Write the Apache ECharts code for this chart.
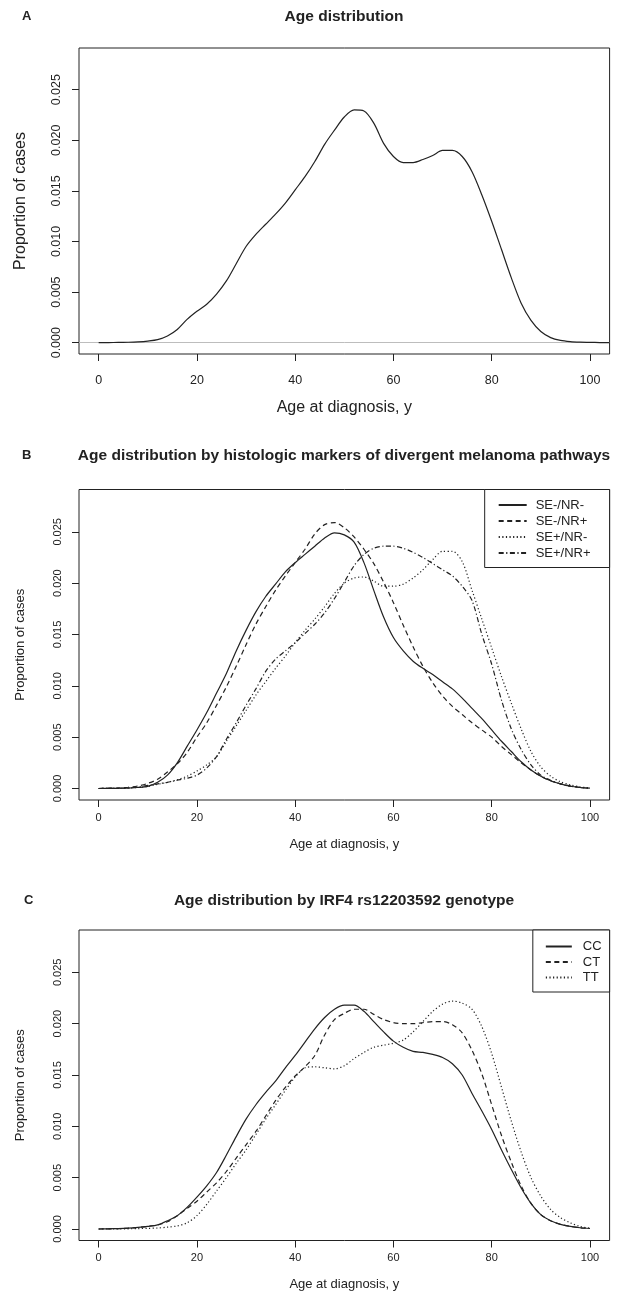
<!DOCTYPE html>
<html>
<head>
<meta charset="utf-8">
<title>Age distribution</title>
<script src="https://cdn.jsdelivr.net/npm/echarts@6/dist/echarts.min.js"></script>
<style>
  html, body { margin: 0; padding: 0; background: #fff; }
  #chart { width: 628px; height: 1298px; }
</style>
</head>
<body>
<div id="chart"></div>
<script>
// 年龄(x轴),每2岁一个点
const agesA = [0, 2, 4, 6, 8, 10, 12, 14, 16, 18, 20, 22, 24, 26, 28, 30, 32, 34, 36, 38, 40, 42, 44, 46, 48, 50,
  52, 54, 56, 58, 60, 62, 64, 66, 68, 70, 72, 74, 76, 78, 80, 82, 84, 86, 88, 90, 92, 94, 96, 98, 100, 102, 104];
const ages = [0, 2, 4, 6, 8, 10, 12, 14, 16, 18, 20, 22, 24, 26, 28, 30, 32, 34, 36, 38, 40, 42, 44, 46, 48, 50,
  52, 54, 56, 58, 60, 62, 64, 66, 68, 70, 72, 74, 76, 78, 80, 82, 84, 86, 88, 90, 92, 94, 96, 98, 100];

// A: all cases
const densAll = [0, 0.00001, 0.00002, 0.00004, 0.00008, 0.00016, 0.0003, 0.00066, 0.0013, 0.0023, 0.0031, 0.0038,
  0.0048, 0.0061, 0.0078, 0.0095, 0.0107, 0.0117, 0.0127, 0.0138, 0.0151, 0.0164, 0.0179, 0.0196, 0.021, 0.0223,
  0.023, 0.0229, 0.0217, 0.0197, 0.0184, 0.0178, 0.0178, 0.0181, 0.0185, 0.019, 0.019, 0.0184, 0.0169, 0.0146,
  0.012, 0.0092, 0.0064, 0.0039, 0.0022, 0.0011, 0.0005, 0.00022, 0.0001, 0.00005, 0.00003, 0.00001, 0.000005];

// B: histologic markers
const namesB = ['SE-/NR-', 'SE-/NR+', 'SE+/NR-', 'SE+/NR+'];
const seNegNrNeg = [0, 0.00001, 0.00002, 0.00004, 0.0001, 0.0002, 0.0006, 0.0013, 0.0025, 0.0041, 0.0057, 0.0074,
  0.0093, 0.0112, 0.0134, 0.0154, 0.0172, 0.0187, 0.0199, 0.0211, 0.022, 0.0228, 0.0236, 0.0244, 0.0249, 0.0247,
  0.024, 0.022, 0.0193, 0.0167, 0.0147, 0.0134, 0.0124, 0.0117, 0.0111, 0.0104, 0.0097, 0.0088, 0.0078, 0.0068,
  0.0057, 0.0046, 0.0036, 0.0026, 0.0018, 0.0012, 0.00075, 0.00045, 0.00022, 0.0001, 0.00003];
const seNegNrPos = [0, 0.00003, 0.00006, 0.00012, 0.00025, 0.0005, 0.0009, 0.0016, 0.0024, 0.0035, 0.005, 0.0064,
  0.0081, 0.0099, 0.0119, 0.014, 0.016, 0.0177, 0.0193, 0.0207, 0.022, 0.0233, 0.0248, 0.0257, 0.0259, 0.0254,
  0.0245, 0.0233, 0.0219, 0.0201, 0.0181, 0.0159, 0.0138, 0.0119, 0.0103, 0.009, 0.008, 0.0072, 0.0064, 0.0057,
  0.005, 0.0041, 0.0033, 0.0025, 0.0018, 0.0012, 0.00075, 0.00045, 0.00025, 0.0001, 0.00003];
const sePosNrNeg = [0, 0.00001, 0.00002, 0.00004, 0.0001, 0.0002, 0.0004, 0.0006, 0.00085, 0.0012, 0.0017, 0.0023,
  0.0031, 0.0046, 0.0061, 0.0076, 0.0091, 0.0104, 0.0117, 0.0129, 0.0142, 0.0154, 0.0165, 0.0177, 0.019, 0.02,
  0.0205, 0.0206, 0.0202, 0.0197, 0.0197, 0.0199, 0.0205, 0.0213, 0.0223, 0.0231, 0.0231, 0.0221, 0.0193, 0.0165,
  0.0137, 0.0109, 0.0083, 0.0058, 0.0036, 0.0021, 0.0012, 0.00065, 0.00035, 0.00015, 0.00005];
const sePosNrPos = [0, 0.00001, 0.00003, 0.00006, 0.00015, 0.0003, 0.00045, 0.0006, 0.0008, 0.001, 0.0013, 0.002,
  0.0031, 0.0048, 0.0064, 0.0081, 0.0097, 0.0114, 0.0126, 0.0134, 0.0142, 0.0151, 0.016, 0.0171, 0.0185, 0.0201,
  0.0217, 0.0228, 0.0234, 0.0236, 0.0236, 0.0234, 0.023, 0.0225, 0.0219, 0.0213, 0.0207, 0.0197, 0.0183, 0.015,
  0.0121, 0.0086, 0.0058, 0.0038, 0.0023, 0.0013, 0.0008, 0.00045, 0.00022, 0.0001, 0.00003];

// C: IRF4 rs12203592 genotype
const namesC = ['CC', 'CT', 'TT'];
const genoCC = [0, 0.00002, 0.00004, 0.00008, 0.00015, 0.00025, 0.0004, 0.0008, 0.0013, 0.0021, 0.0031, 0.0042,
  0.0055, 0.0072, 0.009, 0.0107, 0.0121, 0.0133, 0.0144, 0.0157, 0.0169, 0.0182, 0.0195, 0.0206, 0.0214, 0.0218,
  0.0218, 0.0212, 0.0202, 0.0192, 0.0183, 0.0177, 0.0173, 0.0172, 0.017, 0.0167, 0.0161, 0.015, 0.0132, 0.0115,
  0.0097, 0.0077, 0.0058, 0.004, 0.0025, 0.0014, 0.0008, 0.00045, 0.00025, 0.00012, 0.00005];
const genoCT = [0, 0.00002, 0.00004, 0.00008, 0.00015, 0.00025, 0.0004, 0.0007, 0.0013, 0.002, 0.0027, 0.0036,
  0.0045, 0.0056, 0.0069, 0.0082, 0.0095, 0.011, 0.0125, 0.0138, 0.0149, 0.0158, 0.0169, 0.0189, 0.0204, 0.021,
  0.0214, 0.0214, 0.0209, 0.0204, 0.0201, 0.02, 0.02, 0.0201, 0.0202, 0.0202, 0.0199, 0.0191, 0.0174, 0.0151,
  0.0121, 0.0091, 0.0065, 0.0042, 0.0025, 0.0014, 0.0008, 0.00045, 0.00025, 0.00012, 0.00005];
const genoTT = [0, 0.00001, 0.00001, 0.00002, 0.00004, 0.00006, 0.0001, 0.00018, 0.0003, 0.0006, 0.0013, 0.0024,
  0.0037, 0.005, 0.0064, 0.0077, 0.0092, 0.0107, 0.0121, 0.0135, 0.0148, 0.0157, 0.0158, 0.0157, 0.0156, 0.0159,
  0.0166, 0.0172, 0.0177, 0.0179, 0.0181, 0.0184, 0.0192, 0.0202, 0.0212, 0.0219, 0.0222, 0.022, 0.0214, 0.0197,
  0.0171, 0.0138, 0.0105, 0.0075, 0.005, 0.0032, 0.0019, 0.0011, 0.0006, 0.00025, 0.00008];

// 刻度
const xTicks = [0, 20, 40, 60, 80, 100];
const yTicks = [0, 0.005, 0.01, 0.015, 0.02, 0.025];

const ink = '#222';
const font = 'Liberation Sans, Arial, Helvetica, sans-serif';
// 线型: 实线 / 虚线 / 点线 / 点划线
const dashTypes = ['solid', [5, 3.5], [1.2, 2.4], [5, 2.5, 1.2, 2.5]];

const chart = echarts.init(document.getElementById('chart'));

// 三个面板的位置 (R par 风格的方框)
const panels = [
  { top: 48, height: 306, tickFont: 12.5, nameFont: 16, labelMargin: 20, nameGapX: 46, nameGapY: 50 },
  { top: 489.5, height: 310.5, tickFont: 11, nameFont: 13, labelMargin: 12, nameGapX: 38, nameGapY: 52 },
  { top: 930, height: 310.5, tickFont: 11, nameFont: 13, labelMargin: 12, nameGapX: 37, nameGapY: 52 }
];

const toPairs = (xs, ys) => xs.map((x, i) => [x, ys[i]]);

function makeSeries(name, xs, ys, idx, dash) {
  return {
    name: name,
    type: 'line',
    xAxisIndex: idx,
    yAxisIndex: idx,
    data: toPairs(xs, ys),
    symbol: 'none',
    smooth: 0.3,
    clip: true,
    lineStyle: { color: ink, width: 1.2, type: dash },
    itemStyle: { color: ink },
    emphasis: { disabled: true },
    animation: false
  };
}

const seriesArr = [];
const aSeries = makeSeries('All', agesA, densAll, 0, 'solid');
// 零线(灰色),放在曲线下面
aSeries.markLine = {
  silent: true,
  symbol: 'none',
  z: 1,
  label: { show: false },
  lineStyle: { color: '#bdbdbd', type: 'solid', width: 1 },
  data: [{ yAxis: 0 }]
};
seriesArr.push(aSeries);
[seNegNrNeg, seNegNrPos, sePosNrNeg, sePosNrPos].forEach((d, i) => {
  seriesArr.push(makeSeries(namesB[i], ages, d, 1, dashTypes[i]));
});
[genoCC, genoCT, genoTT].forEach((d, i) => {
  seriesArr.push(makeSeries(namesC[i], ages, d, 2, dashTypes[i]));
});

const titleStyle = { fontSize: 15.5, fontWeight: 'bold', color: ink, fontFamily: font };
const letterStyle = { fontSize: 13, fontWeight: 'bold', color: ink, fontFamily: font };

const option = {
  backgroundColor: '#fff',
  animation: false,
  textStyle: { fontFamily: font, color: ink },
  title: [
    { text: 'A', left: 22, top: 10, padding: 0, textStyle: letterStyle },
    { text: 'Age distribution', left: 344, top: 8.5, padding: 0, textAlign: 'center', textStyle: titleStyle },
    { text: 'B', left: 22, top: 449, padding: 0, textStyle: letterStyle },
    { text: 'Age distribution by histologic markers of divergent melanoma pathways', left: 344, top: 447.5, padding: 0, textAlign: 'center', textStyle: titleStyle },
    { text: 'C', left: 24, top: 894, padding: 0, textStyle: letterStyle },
    { text: 'Age distribution by IRF4 rs12203592 genotype', left: 344, top: 893, padding: 0, textAlign: 'center', textStyle: titleStyle }
  ],
  legend: [
    {
      data: namesB,
      orient: 'vertical',
      right: 18.4,
      top: 489.5,
      itemWidth: 28,
      itemHeight: 12,
      itemGap: 3,
      padding: [9, 19, 8, 13],
      borderColor: ink,
      borderWidth: 1,
      borderRadius: 0,
      backgroundColor: '#fff',
      selectedMode: false,
      itemStyle: { opacity: 0 },
      textStyle: { fontSize: 13, color: ink, fontFamily: font, padding: [0, 0, 0, 4] }
    },
    {
      data: namesC,
      orient: 'vertical',
      right: 18.4,
      top: 930,
      itemWidth: 26,
      itemHeight: 12,
      itemGap: 2.5,
      padding: [10, 8, 8, 12],
      borderColor: ink,
      borderWidth: 1,
      borderRadius: 0,
      backgroundColor: '#fff',
      selectedMode: false,
      itemStyle: { opacity: 0 },
      textStyle: { fontSize: 13, color: ink, fontFamily: font, padding: [0, 0, 0, 6] }
    }
  ],
  grid: panels.map(p => ({
    left: 79,
    right: 18.4,
    top: p.top,
    height: p.height,
    show: true,
    borderColor: ink,
    borderWidth: 1,
    backgroundColor: 'transparent',
    containLabel: false
  })),
  xAxis: panels.map((p, i) => ({
    type: 'value',
    gridIndex: i,
    min: -4,
    max: 104,
    name: 'Age at diagnosis, y',
    nameLocation: 'middle',
    nameGap: p.nameGapX,
    nameTextStyle: { fontSize: p.nameFont, color: ink, fontFamily: font },
    splitLine: { show: false },
    axisLine: { show: false, onZero: false },
    axisTick: { show: true, customValues: xTicks, length: 7, lineStyle: { color: ink, width: 1 } },
    axisLabel: { customValues: xTicks, fontSize: p.tickFont, color: ink, fontFamily: font, margin: p.labelMargin }
  })),
  yAxis: panels.map((p, i) => ({
    type: 'value',
    gridIndex: i,
    min: -0.00112,
    max: 0.02912,
    name: 'Proportion of cases',
    nameLocation: 'middle',
    nameRotate: 90,
    nameGap: p.nameGapY,
    nameTextStyle: { fontSize: p.nameFont, color: ink, fontFamily: font },
    splitLine: { show: false },
    axisLine: { show: false, onZero: false },
    axisTick: { show: true, customValues: yTicks, length: 7, lineStyle: { color: ink, width: 1 } },
    axisLabel: {
      customValues: yTicks,
      rotate: 90,
      fontSize: p.tickFont,
      color: ink,
      fontFamily: font,
      margin: 16,
      formatter: v => v.toFixed(3)
    }
  })),
  series: seriesArr
};

chart.setOption(option);
</script>
</body>
</html>
